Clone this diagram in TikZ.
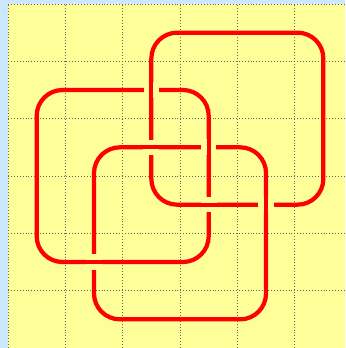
\documentclass[tikz,border=0pt]{standalone}
\usepackage{tikz}
\usetikzlibrary{calc}
\definecolor{bgyellow}{RGB}{255,255,153}
\definecolor{bgblue}{RGB}{204,232,255}
\tikzset{
    strand/.style={draw=red,line width=2.1pt,rounded corners=0.45cm},
    gapline/.style={draw=bgyellow,line width=7.6pt},
    gridline/.style={densely dotted,draw=black!60,line width=0.45pt}
}

\begin{document}
\begin{tikzpicture}
  % page and grid
  \fill[bgblue] (-0.14,0) rectangle (5.88,6.07);
  \useasboundingbox (-0.14,0) rectangle (5.88,6.07);
  \fill[bgyellow] (0,0) rectangle (5.88,6.0);
  \foreach \i in {0,...,5}{\draw[gridline] (\i,0)--(\i,6);}
  \foreach \j in {0,...,6}{\draw[gridline] (0,\j)--(5.88,\j);}
  % the three loops
  \coordinate (A1) at (2.5,2.5); \coordinate (A2) at (5.5,5.5);
  \coordinate (B1) at (0.5,1.5); \coordinate (B2) at (3.5,4.5);
  \coordinate (C1) at (1.5,0.5); \coordinate (C2) at (4.5,3.5);
  \draw[strand] (A1) rectangle (A2);
  \draw[strand] (B1) rectangle (B2);
  \draw[strand] (C1) rectangle (C2);
  % crossings: vertical strand on top
  \foreach \x/\y in {2.5/4.5,3.5/3.5,4.5/2.5}{
    \draw[gapline] (\x,\y-0.14)--(\x,\y+0.14);
    \draw[strand] (\x,\y-0.2)--(\x,\y+0.2);
  }
  % crossings: horizontal strand on top
  \foreach \x/\y in {2.5/3.5,3.5/2.5,1.5/1.5}{
    \draw[gapline] (\x-0.14,\y)--(\x+0.14,\y);
    \draw[strand] (\x-0.2,\y)--(\x+0.2,\y);
  }
\end{tikzpicture}
\end{document}
